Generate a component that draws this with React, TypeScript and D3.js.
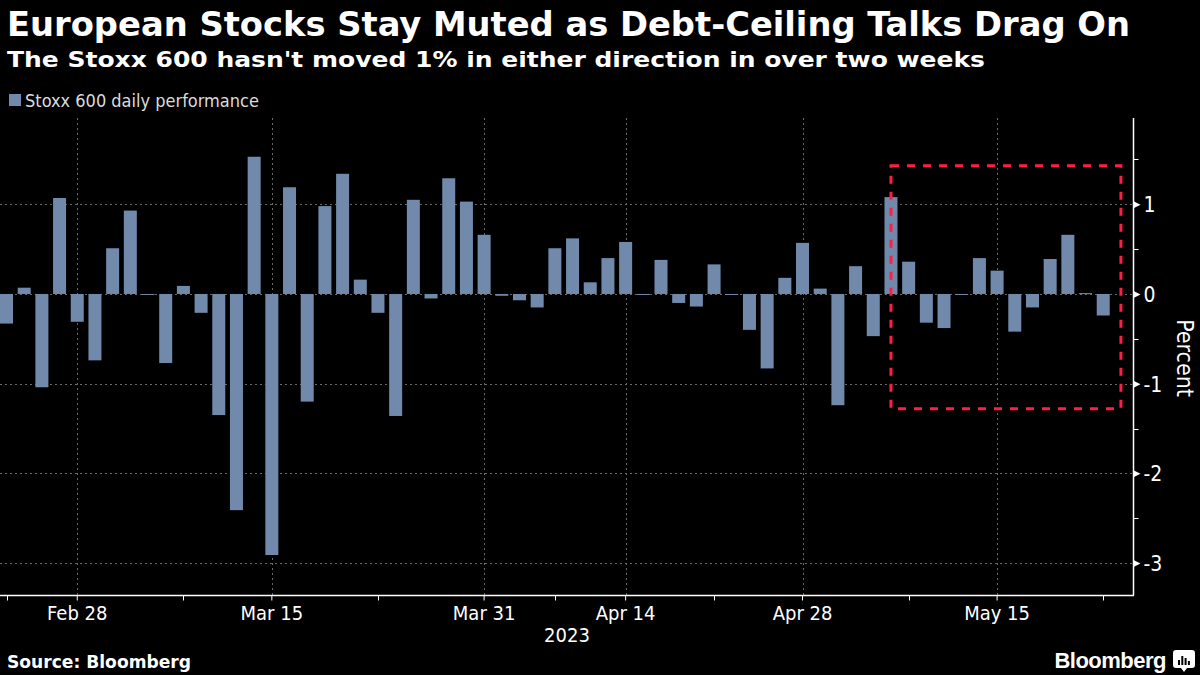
import React from 'react';
import { scaleBand, scaleLinear, select, axisRight, axisBottom } from 'd3';

// trading days shown on the chart (2023)
const dates = [
  'Feb 22', 'Feb 23', 'Feb 24', 'Feb 27', 'Feb 28', 'Mar 1', 'Mar 2', 'Mar 3', 'Mar 6', 'Mar 7',
  'Mar 8', 'Mar 9', 'Mar 10', 'Mar 13', 'Mar 14', 'Mar 15', 'Mar 16', 'Mar 17', 'Mar 20', 'Mar 21',
  'Mar 22', 'Mar 23', 'Mar 24', 'Mar 27', 'Mar 28', 'Mar 29', 'Mar 30', 'Mar 31', 'Apr 3', 'Apr 4',
  'Apr 5', 'Apr 6', 'Apr 11', 'Apr 12', 'Apr 13', 'Apr 14', 'Apr 17', 'Apr 18', 'Apr 19', 'Apr 20',
  'Apr 21', 'Apr 24', 'Apr 25', 'Apr 26', 'Apr 27', 'Apr 28', 'May 1', 'May 2', 'May 3', 'May 4',
  'May 5', 'May 8', 'May 9', 'May 10', 'May 11', 'May 12', 'May 15', 'May 16', 'May 17', 'May 18',
  'May 19', 'May 22', 'May 23',
];

// Stoxx 600 daily % change
const performance = [
  -0.33, 0.07, -1.04, 1.07, -0.31, -0.74, 0.51, 0.93, -0.01, -0.77,
  0.09, -0.21, -1.35, -2.41, 1.53, -2.91, 1.19, -1.2, 0.98, 1.34,
  0.16, -0.21, -1.36, 1.05, -0.05, 1.29, 1.03, 0.66, -0.02, -0.07,
  -0.15, 0.51, 0.62, 0.13, 0.4, 0.58, -0.01, 0.38, -0.1, -0.14,
  0.33, -0.01, -0.4, -0.83, 0.18, 0.57, 0.06, -1.24, 0.31, -0.47,
  1.08, 0.36, -0.32, -0.38, -0.01, 0.4, 0.26, -0.42, -0.15, 0.39,
  0.66, 0.01, -0.24,
];

const labelDates = ['Feb 28', 'Mar 15', 'Mar 31', 'Apr 14', 'Apr 28', 'May 15'];
const minorDates = ['Feb 22', 'Mar 8', 'Mar 23', 'Apr 6', 'Apr 21', 'May 8', 'May 23'];
const yTicks = [-3, -2, -1, 0, 1];
const yMinorTicks = [-2.5, -1.5, -0.5, 0.5, 1.5];
const yDomain = [-3.356, 1.962];

// highlighted window (red dashed box)
const boxStart = 'May 5';
const boxRange = [1.43, -1.28];

const W = 1200;
const H = 675;
const plot = { left: 0, right: 1133, top: 118, bottom: 595 };
const barColor = '#7189ab';
const font = '"DejaVu Sans Condensed", "DejaVu Sans", sans-serif';
const logoFont = '"Liberation Sans", Arial, sans-serif';

const App: React.FC = () => {
  const ref = React.useRef<SVGSVGElement>(null);

  React.useEffect(() => {
    const svg = select(ref.current);
    svg.selectAll('*').remove();

    const x = scaleBand<string>()
      .domain(dates)
      .range([plot.left, plot.right])
      .paddingInner(0.265)
      .paddingOuter(0.6575)
      .align(0);
    const y = scaleLinear().domain(yDomain).range([plot.bottom, plot.top]);
    const cx = (d: string) => (x(d) as number) + x.bandwidth() / 2;

    svg.append('rect').attr('width', W).attr('height', H).attr('fill', '#000');

    // grid
    const grid = svg.append('g').attr('stroke', '#6a6a6a').attr('stroke-width', 1).attr('stroke-dasharray', '2,3');
    grid.selectAll('.hg')
      .data(yTicks)
      .join('line')
      .attr('x1', plot.left)
      .attr('x2', plot.right)
      .attr('y1', d => Math.round(y(d)) + 0.5)
      .attr('y2', d => Math.round(y(d)) + 0.5);
    grid.selectAll('.vg')
      .data(labelDates)
      .join('line')
      .attr('x1', d => Math.round(cx(d)) + 0.5)
      .attr('x2', d => Math.round(cx(d)) + 0.5)
      .attr('y1', plot.top)
      .attr('y2', plot.bottom);

    // bars
    svg.append('g')
      .selectAll('rect')
      .data(performance)
      .join('rect')
      .attr('fill', barColor)
      .attr('x', (d, i) => x(dates[i]) as number)
      .attr('width', x.bandwidth())
      .attr('y', d => y(Math.max(0, d)))
      .attr('height', d => Math.max(1, Math.abs(y(d) - y(0))));

    // highlight box
    const bx0 = cx(boxStart);
    const bx1 = cx(dates[dates.length - 1]) + x.step();
    svg.append('rect')
      .attr('x', bx0)
      .attr('y', y(boxRange[0]))
      .attr('width', bx1 - bx0)
      .attr('height', y(boxRange[1]) - y(boxRange[0]))
      .attr('fill', 'none')
      .attr('stroke', '#ff1f45')
      .attr('stroke-width', 3)
      .attr('stroke-dasharray', '8,8');

    // y axis (right)
    const yAxis = svg.append('g')
      .attr('transform', `translate(${plot.right + 0.5},0)`)
      .call(axisRight(y).tickValues(yTicks).tickSize(0).tickPadding(10).tickFormat(d => String(d)));
    yAxis.select('.domain').remove();
    yAxis.selectAll('text')
      .attr('fill', '#fff')
      .attr('font-family', font)
      .attr('font-size', 21)
      .attr('text-anchor', 'start')
      .attr('dy', '0.36em');
    yAxis.selectAll('.tick')
      .append('path')
      .attr('d', 'M0,-3.5L7,0L0,3.5Z')
      .attr('fill', '#fff');
    yAxis.selectAll('.minor')
      .data(yMinorTicks)
      .join('line')
      .attr('x1', 0)
      .attr('x2', 5)
      .attr('y1', d => Math.round(y(d)) + 0.5)
      .attr('y2', d => Math.round(y(d)) + 0.5)
      .attr('stroke', '#fff');
    yAxis.append('line')
      .attr('y1', plot.top)
      .attr('y2', plot.bottom)
      .attr('stroke', '#fff')
      .attr('stroke-width', 1.5);

    svg.append('text')
      .attr('transform', `translate(${1177},${358}) rotate(90)`)
      .attr('text-anchor', 'middle')
      .attr('fill', '#fff')
      .attr('font-family', font)
      .attr('font-size', 23)
      .text('Percent');

    // x axis
    const xAxis = svg.append('g')
      .attr('transform', `translate(0,${plot.bottom + 0.5})`)
      .call(axisBottom(x).tickValues(labelDates).tickSize(5).tickPadding(5));
    xAxis.select('.domain').remove();
    xAxis.selectAll('text')
      .attr('fill', '#fff')
      .attr('font-family', font)
      .attr('font-size', 20);
    xAxis.selectAll('.tick line').attr('stroke', '#fff');
    xAxis.selectAll('.minor')
      .data(minorDates)
      .join('line')
      .attr('x1', d => Math.round(cx(d)) + 0.5)
      .attr('x2', d => Math.round(cx(d)) + 0.5)
      .attr('y1', 0)
      .attr('y2', 5)
      .attr('stroke', '#fff');
    xAxis.append('line')
      .attr('x1', plot.left)
      .attr('x2', plot.right + 1)
      .attr('stroke', '#fff')
      .attr('stroke-width', 1.5);

    svg.append('text')
      .attr('x', 567)
      .attr('y', 642)
      .attr('text-anchor', 'middle')
      .attr('fill', '#fff')
      .attr('font-family', font)
      .attr('font-size', 20)
      .text('2023');

    // legend
    svg.append('rect').attr('x', 9).attr('y', 94).attr('width', 12).attr('height', 12).attr('fill', barColor);
    svg.append('text')
      .attr('x', 25)
      .attr('y', 107)
      .attr('fill', '#dcdcdc')
      .attr('font-family', font)
      .attr('font-size', 18)
      .text('Stoxx 600 daily performance');

    // titles
    svg.append('text')
      .attr('x', 7)
      .attr('y', 36)
      .attr('fill', '#fff')
      .attr('font-family', font)
      .attr('font-weight', 'bold')
      .attr('font-size', 34)
      .attr('textLength', 1123)
      .attr('lengthAdjust', 'spacingAndGlyphs')
      .text('European Stocks Stay Muted as Debt-Ceiling Talks Drag On');
    svg.append('text')
      .attr('x', 7)
      .attr('y', 67)
      .attr('fill', '#fff')
      .attr('font-family', font)
      .attr('font-weight', 'bold')
      .attr('font-size', 22)
      .attr('textLength', 978)
      .attr('lengthAdjust', 'spacingAndGlyphs')
      .text("The Stoxx 600 hasn't moved 1% in either direction in over two weeks");

    // footer
    svg.append('text')
      .attr('x', 7)
      .attr('y', 668)
      .attr('fill', '#fff')
      .attr('font-family', font)
      .attr('font-weight', 'bold')
      .attr('font-size', 18)
      .attr('textLength', 184)
      .attr('lengthAdjust', 'spacingAndGlyphs')
      .text('Source: Bloomberg');
    svg.append('text')
      .attr('x', 1166)
      .attr('y', 668)
      .attr('text-anchor', 'end')
      .attr('fill', '#fff')
      .attr('font-family', logoFont)
      .attr('font-weight', 'bold')
      .attr('font-size', 22)
      .attr('letter-spacing', -0.5)
      .text('Bloomberg');
    const logo = svg.append('g').attr('transform', 'translate(1173,650)');
    logo.append('path')
      .attr('d', 'M3,0H19Q22,0 22,3V15Q22,18 19,18H14L11,22L8,18H3Q0,18 0,15V3Q0,0 3,0Z')
      .attr('fill', '#fff');
    logo.selectAll('.b')
      .data([5, 9, 7, 4])
      .join('rect')
      .attr('x', (d, i) => 5 + i * 3.3)
      .attr('y', d => 15 - d)
      .attr('width', 2)
      .attr('height', d => d)
      .attr('fill', '#000');
  }, []);

  return (
    <div style={{ position: 'absolute', left: 0, top: 0 }}>
      <svg ref={ref} width={W} height={H} style={{ display: 'block' }} />
    </div>
  );
};

export default App;
